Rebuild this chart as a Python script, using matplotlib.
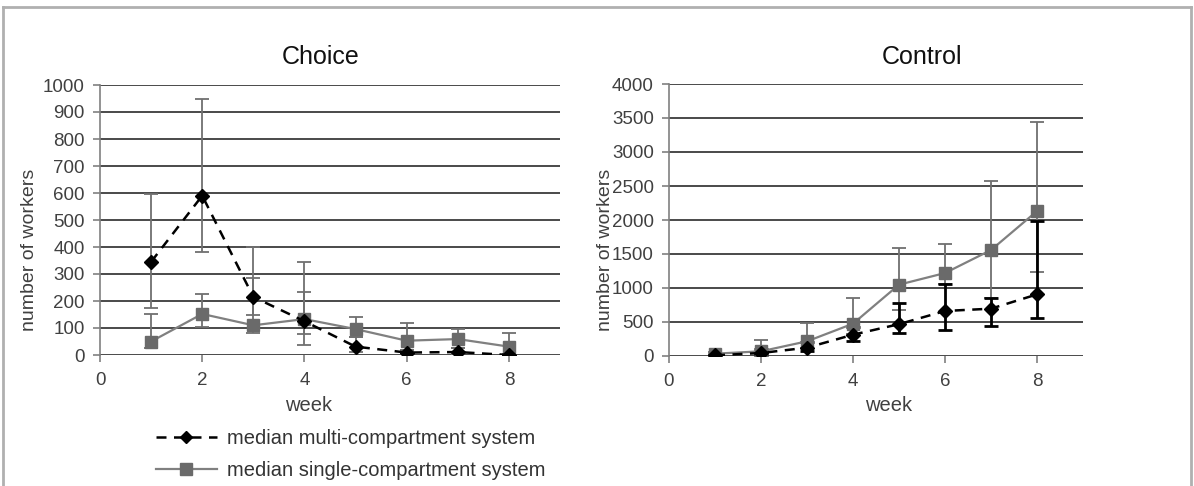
import matplotlib
matplotlib.use("Agg")
import matplotlib.pyplot as plt
from matplotlib.lines import Line2D
import numpy as np

plt.rcParams['font.family'] = ['Liberation Sans', 'DejaVu Sans']

weeks = [1, 2, 3, 4, 5, 6, 7, 8]

# Choice panel
choice_multi = [345, 590, 215, 125, 31, 9, 11, 0]
choice_multi_lo = [175, 380, 150, 37, 10, 2, 2, 0]
choice_multi_hi = [595, 950, 400, 345, 67, 20, 25, 5]
choice_single = [50, 152, 110, 133, 96, 53, 59, 31]
choice_single_lo = [25, 105, 80, 78, 67, 20, 25, 5]
choice_single_hi = [152, 225, 285, 233, 141, 118, 96, 81]

# Control panel
control_multi = [10, 44, 122, 313, 468, 662, 696, 906]
control_multi_lo = [2, 20, 80, 216, 338, 387, 436, 563]
control_multi_hi = [30, 100, 200, 420, 779, 1054, 853, 1980]
control_single = [34, 69, 216, 475, 1049, 1220, 1558, 2131]
control_single_lo = [10, 30, 120, 330, 681, 1054, 853, 1235]
control_single_hi = [60, 240, 485, 853, 1588, 1651, 2572, 3440]

titles = ["Choice", "Control"]
y_max = [1000, 4000]
y_step = [100, 500]
x_ticks = [0, 2, 4, 6, 8]

multi_label = "median multi-compartment system"
single_label = "median single-compartment system"

W, H = 1194, 486
fig = plt.figure(figsize=(11.94, 4.86), dpi=100)
ax1 = fig.add_axes([100/W, 1-355/H, 460/W, 270/H])
ax2 = fig.add_axes([669/W, 1-356/H, 414/W, 272/H])

gray_line = '#808080'
gray_mark = '#6a6a6a'
grid_c = '#3c3c3c'
text_c = '#404040'

panels = [
    (ax1, choice_multi, choice_multi_lo, choice_multi_hi, choice_single, choice_single_lo, choice_single_hi, '#707070'),
    (ax2, control_multi, control_multi_lo, control_multi_hi, control_single, control_single_lo, control_single_hi, 'black'),
]

title_pos = [(321, 57), (922, 57)]
xlabel_pos = [(309, 405), (889, 405)]
ylabel_pos = [(30, 250), (606, 250)]

for i, (ax, m, mlo, mhi, s, slo, shi, merr_c) in enumerate(panels):
    m = np.array(m); s = np.array(s)
    merr = [m - np.array(mlo), np.array(mhi) - m]
    serr = [s - np.array(slo), np.array(shi) - s]
    ax.errorbar(weeks, s, yerr=serr, fmt='none', ecolor='#707070', elinewidth=1.3,
                capsize=5, capthick=1.3, zorder=3)
    ax.errorbar(weeks, m, yerr=merr, fmt='none', ecolor=merr_c,
                elinewidth=1.3 if i == 0 else 2.0, capsize=5,
                capthick=1.3 if i == 0 else 2.0, zorder=3)
    ax.plot(weeks, s, color=gray_line, lw=1.6, marker='s', ms=9,
            mfc=gray_mark, mec=gray_mark, zorder=4)
    ax.plot(weeks, m, color='black', lw=1.8, ls=(0, (4, 3)), marker='D', ms=7.5,
            mfc='black', mec='black', zorder=5)
    ax.set_xlim(0, 9)
    ax.set_ylim(0, y_max[i])
    ax.set_yticks(np.arange(0, y_max[i] + 1, y_step[i]))
    ax.set_xticks(x_ticks)
    for yv in np.arange(0, y_max[i] + 1, y_step[i]):
        ax.axhline(yv, color=grid_c, lw=1.3, zorder=1)
    for sp in ['top', 'right', 'bottom']:
        ax.spines[sp].set_visible(False)
    ax.spines['left'].set_color('#808080')
    ax.spines['left'].set_linewidth(1.2)
    ax.tick_params(axis='both', colors='#808080', labelcolor=text_c,
                   labelsize=13.5, length=5, width=1.2, direction='out', pad=7)
    ax.tick_params(axis='y', pad=6)
    fig.text(title_pos[i][0]/W, 1-title_pos[i][1]/H, titles[i], fontsize=18,
             color='#111111', ha='center', va='center')
    fig.text(xlabel_pos[i][0]/W, 1-xlabel_pos[i][1]/H, 'week', fontsize=14.5,
             color=text_c, ha='center', va='center')
    fig.text(ylabel_pos[i][0]/W, 1-ylabel_pos[i][1]/H, 'number of workers',
             fontsize=14, color=text_c, ha='center', va='center', rotation=90)

handles = [
    Line2D([], [], color='black', lw=1.8, ls=(0, (4, 3)), marker='D', ms=6,
           mfc='black', mec='black'),
    Line2D([], [], color=gray_line, lw=1.6, marker='s', ms=8,
           mfc=gray_mark, mec=gray_mark),
]
fig.legend(handles, [multi_label, single_label], loc='upper left',
           bbox_to_anchor=(140/W, 1-413/H), frameon=False,
           fontsize=14.5, labelcolor='#333333', handlelength=3.0,
           handletextpad=0.5, labelspacing=0.62, borderpad=0.3)

# outer frame
fc = '#b0b0b0'
fig.add_artist(Line2D([3/W, 1191/W], [1-7/H, 1-7/H], color=fc, lw=2))
fig.add_artist(Line2D([3/W, 3/W], [0, 1-7/H], color=fc, lw=2))
fig.add_artist(Line2D([1191/W, 1191/W], [0, 1-7/H], color=fc, lw=2))

fig.savefig('out.png', dpi=100)
